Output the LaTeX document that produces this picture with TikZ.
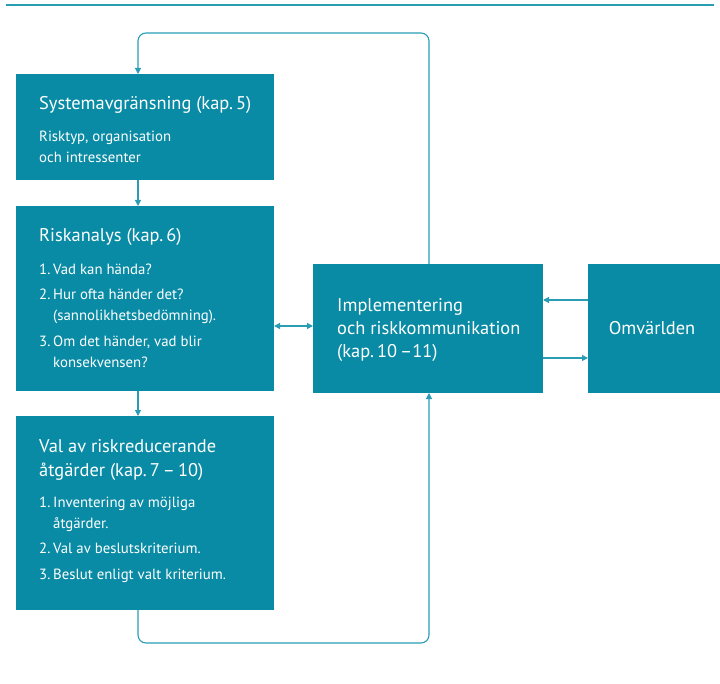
\documentclass[tikz,border=0pt]{standalone}
\usepackage{fontspec}
\setmainfont{PT Sans}
\usetikzlibrary{arrows.meta}
\definecolor{boxteal}{HTML}{0A8BA5}
\definecolor{lineteal}{HTML}{2A9DB5}
\begin{document}
\begin{tikzpicture}[x=1pt,y=-1pt,
  flowbox/.style={fill=boxteal,draw=none,inner sep=0pt,outer sep=0pt,anchor=north west},
  ttl/.style={text=white,inner sep=0pt,anchor=base west,font=\fontsize{18.4}{21}\selectfont},
  bodytxt/.style={text=white,inner sep=0pt,anchor=base west,font=\fontsize{14.8}{17}\selectfont},
  link/.style={draw=lineteal,line width=1.1pt},
  tip/.style={-{Triangle[length=6pt,width=6pt]}},
  loop/.style={link,rounded corners=8pt}]
\useasboundingbox (0,0) rectangle (720,684);
% top rule
\draw[lineteal,line width=2pt] (6,5) -- (714,5);

% boxes
\node[flowbox,minimum width=258pt,minimum height=106pt] (sys) at (16,74) {};
\node[flowbox,minimum width=258pt,minimum height=185pt] (ana) at (16,206) {};
\node[flowbox,minimum width=258pt,minimum height=194pt] (val) at (16,416) {};
\node[flowbox,minimum width=230pt,minimum height=129pt] (imp) at (313,264) {};
\node[flowbox,minimum width=132pt,minimum height=129pt] (omv) at (588,264) {};

% column of the vertical connectors
\coordinate (cl) at (138,0);
\coordinate (cr) at (429,0);
\coordinate (loopTop) at (0,33);
\coordinate (loopBot) at (0,643);

% texts: Systemavgränsning
\node[ttl] (sysT) at (39,110) {Systemavgränsning (kap.\,5)};
\node[bodytxt] (sysA) at (39,142) {Risktyp, organisation};
\node[bodytxt] (sysB) at (39,163) {och intressenter};

% texts: Riskanalys
\node[ttl] (anaT) at (39,242) {Riskanalys (kap.\,6)};
\node[bodytxt] (anaN1) at (39,275) {1.};
\node[bodytxt] (anaA) at (53,275) {Vad kan hända?};
\node[bodytxt] (anaN2) at (39,300) {2.};
\node[bodytxt] (anaB) at (53,300) {Hur ofta händer det?};
\node[bodytxt] (anaC) at (53,321) {(sannolikhetsbedömning).};
\node[bodytxt] (anaN3) at (39,347) {3.};
\node[bodytxt] (anaD) at (53,347) {Om det händer, vad blir};
\node[bodytxt] (anaE) at (53,368) {konsekvensen?};

% texts: Val av riskreducerande åtgärder
\node[ttl] (valT1) at (39,452) {Val av riskreducerande};
\node[ttl] (valT2) at (39,476) {åtgärder (kap.\,7\,–\,10)};
\node[bodytxt] (valN1) at (39,507) {1.};
\node[bodytxt] (valA) at (53,507) {Inventering av möjliga};
\node[bodytxt] (valB) at (53,528) {åtgärder.};
\node[bodytxt] (valN2) at (39,553) {2.};
\node[bodytxt] (valC) at (53,553) {Val av beslutskriterium.};
\node[bodytxt] (valN3) at (39,579) {3.};
\node[bodytxt] (valD) at (53,579) {Beslut enligt valt kriterium.};

% texts: Implementering, Omvärlden
\node[ttl] (impA) at (337,312) {Implementering};
\node[ttl] (impB) at (337,335) {och riskkommunikation};
\node[ttl] (impC) at (337,358) {(kap.\,10\,–11)};
\node[ttl,anchor=base] (omvT) at (652,335) {Omvärlden};

% connectors
\draw[link,tip] (sys.south -| cl) -- (ana.north -| cl);
\draw[link,tip] (ana.south -| cl) -- (val.north -| cl);
\draw[link,{Triangle[length=6pt,width=6pt]}-{Triangle[length=6pt,width=6pt]}]
  (ana.east |- 0,326) -- (imp.west |- 0,326);
\draw[link,tip] (omv.west |- 0,300) -- (imp.east |- 0,300);
\draw[link,tip] (imp.east |- 0,358) -- (omv.west |- 0,358);
\draw[loop,tip] (imp.north -| cr) -- (cr |- loopTop) -- (cl |- loopTop) -- (sys.north -| cl);
\draw[loop,tip] (val.south -| cl) -- (cl |- loopBot) -- (cr |- loopBot) -- (imp.south -| cr);
\end{tikzpicture}
\end{document}
